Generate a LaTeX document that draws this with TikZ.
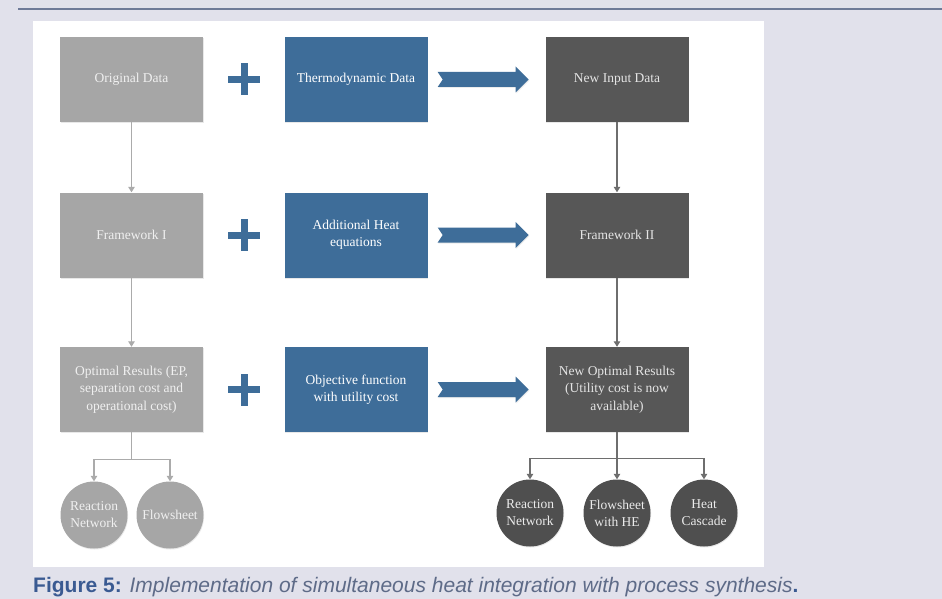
\documentclass[tikz,border=0pt]{standalone}
\usepackage{fontspec}
\setmainfont{Liberation Serif}
\newfontfamily\capfont{Liberation Sans}
\usetikzlibrary{arrows.meta,shadows}
\definecolor{pagebg}{HTML}{E1E1EB}
\definecolor{ruleline}{HTML}{6E7A98}
\definecolor{lightbox}{HTML}{A6A6A6}
\definecolor{bluebox}{HTML}{3E6D99}
\definecolor{darkbox}{HTML}{575757}
\definecolor{darkcirc}{HTML}{4F4F4F}
\definecolor{lightline}{HTML}{ABABAB}
\definecolor{darkline}{HTML}{6E6E6E}
\definecolor{capblue}{HTML}{3A5A92}
\definecolor{captext}{HTML}{5E6B88}
\tikzset{
  boxbase/.style={minimum width=143pt, minimum height=85pt, inner sep=2pt, align=center,
    font=\fontsize{13.5}{17.5}\selectfont,
    drop shadow={opacity=0.18, shadow xshift=0.8pt, shadow yshift=-1.2pt}},
  greybox/.style={boxbase, fill=lightbox, text=white!94!black},
  bluebx/.style={boxbase, fill=bluebox, text=white},
  darkbx/.style={boxbase, fill=darkbox, text=white!90!black},
  circbase/.style={circle, minimum size=67pt, inner sep=0pt, align=center,
    font=\fontsize{13.5}{17}\selectfont,
    drop shadow={opacity=0.18, shadow xshift=0.6pt, shadow yshift=-1pt}},
  greycirc/.style={circbase, fill=lightbox, text=white!94!black},
  darkcirc/.style={circbase, fill=darkcirc, text=white!92!black},
  lightflow/.style={draw=lightline, line width=1.2pt, -{Triangle[width=6.5pt,length=5.5pt]}},
  darkflow/.style={draw=darkline, line width=1.2pt, -{Triangle[width=6.5pt,length=5.5pt]}},
  lightseg/.style={draw=lightline, line width=1.2pt},
  darkseg/.style={draw=darkline, line width=1.2pt},
  blockarrow/.style={fill=bluebox, drop shadow={opacity=0.15, shadow xshift=0.6pt, shadow yshift=-1pt}},
  plussign/.style={fill=bluebox}
}
\begin{document}
\begin{tikzpicture}[x=1pt,y=-1pt]
  % page and panel
  \fill[pagebg] (0,0) rectangle (942,599);
  \useasboundingbox (0,0) rectangle (942,599);
  \draw[ruleline, line width=1.6pt] (18,9) -- (942,9);
  \fill[white] (33,21) rectangle (764,567);

  % boxes, three rows by three columns
  \node[greybox] (orig)  at (131.5,79.5) {Original Data};
  \node[bluebx]  (thermo) at (356,79.5) {Thermodynamic Data};
  \node[darkbx]  (newin) at (617,79.5) {New Input Data};

  \node[greybox] (fw1)   at (131.5,235) {Framework I};
  \node[bluebx]  (addh)  at (356,235) {Additional Heat\\equations};
  \node[darkbx]  (fw2)   at (617,235) {Framework II};

  \node[greybox] (optres) at (131.5,389.5) {Optimal Results (EP,\\separation cost and\\operational cost)};
  \node[bluebx]  (objf)   at (356,389.5) {Objective function\\with utility cost};
  \node[darkbx]  (newopt) at (617,389.5) {New Optimal Results\\(Utility cost is now\\available)};

  % result circles
  \node[greycirc] (rn1) at (94,515) {Reaction\\Network};
  \node[greycirc] (fs1) at (170,515) {Flowsheet};
  \node[darkcirc] (rn2) at (530,513) {Reaction\\Network};
  \node[darkcirc] (fs2) at (617,513) {Flowsheet\\with HE};
  \node[darkcirc] (hc2) at (704,513) {Heat\\Cascade};

  % plus signs between first and second column
  \foreach \r/\y in {1/79.5,2/235,3/389.5}{
    \coordinate (plus\r) at (244,\y);
    \fill[plussign] ([xshift=-16pt,yshift=-3.5pt]plus\r) rectangle ([xshift=16pt,yshift=3.5pt]plus\r);
    \fill[plussign] ([xshift=-3.5pt,yshift=-16pt]plus\r) rectangle ([xshift=3.5pt,yshift=16pt]plus\r);
  }

  % block arrows from second to third column
  \foreach \src/\dst in {thermo/newin, addh/fw2, objf/newopt}{
    \coordinate (tail) at ([xshift=10pt]\src.east);
    \fill[blockarrow] (tail) ++(0,-7.5) -- ++(78,0) -- ++(0,-5.5) -- ++(13,13)
      -- ++(-13,13) -- ++(0,-5.5) -- ++(-78,0) -- ++(5,-7.5) -- cycle;
  }

  % vertical flow, left column
  \draw[lightflow] (orig.south) -- (fw1.north);
  \draw[lightflow] (fw1.south) -- (optres.north);
  \coordinate (lsplit) at ([yshift=-27pt]optres.south);
  \draw[lightseg] (optres.south) -- (lsplit);
  \draw[lightseg] (lsplit -| rn1) -- (lsplit -| fs1);
  \draw[lightflow] (lsplit -| rn1) -- (rn1.north);
  \draw[lightflow] (lsplit -| fs1) -- (fs1.north);

  % vertical flow, right column
  \draw[darkflow] (newin.south) -- (fw2.north);
  \draw[darkflow] (fw2.south) -- (newopt.north);
  \coordinate (rsplit) at ([yshift=-26pt]newopt.south);
  \draw[darkseg] (rsplit -| rn2) -- (rsplit -| hc2);
  \draw[darkflow] (newopt.south) -- (fs2.north);
  \draw[darkflow] (rsplit -| rn2) -- (rn2.north);
  \draw[darkflow] (rsplit -| hc2) -- (hc2.north);

  % caption
  \node[anchor=base west, inner sep=0pt, font=\capfont\fontsize{21}{24}\selectfont] (cap) at (33,592)
    {\textcolor{capblue}{\bfseries Figure 5:} \textcolor{captext}{\itshape Implementation of simultaneous heat integration with process synthesis}\textcolor{capblue}{\bfseries .}};
\end{tikzpicture}
\end{document}
